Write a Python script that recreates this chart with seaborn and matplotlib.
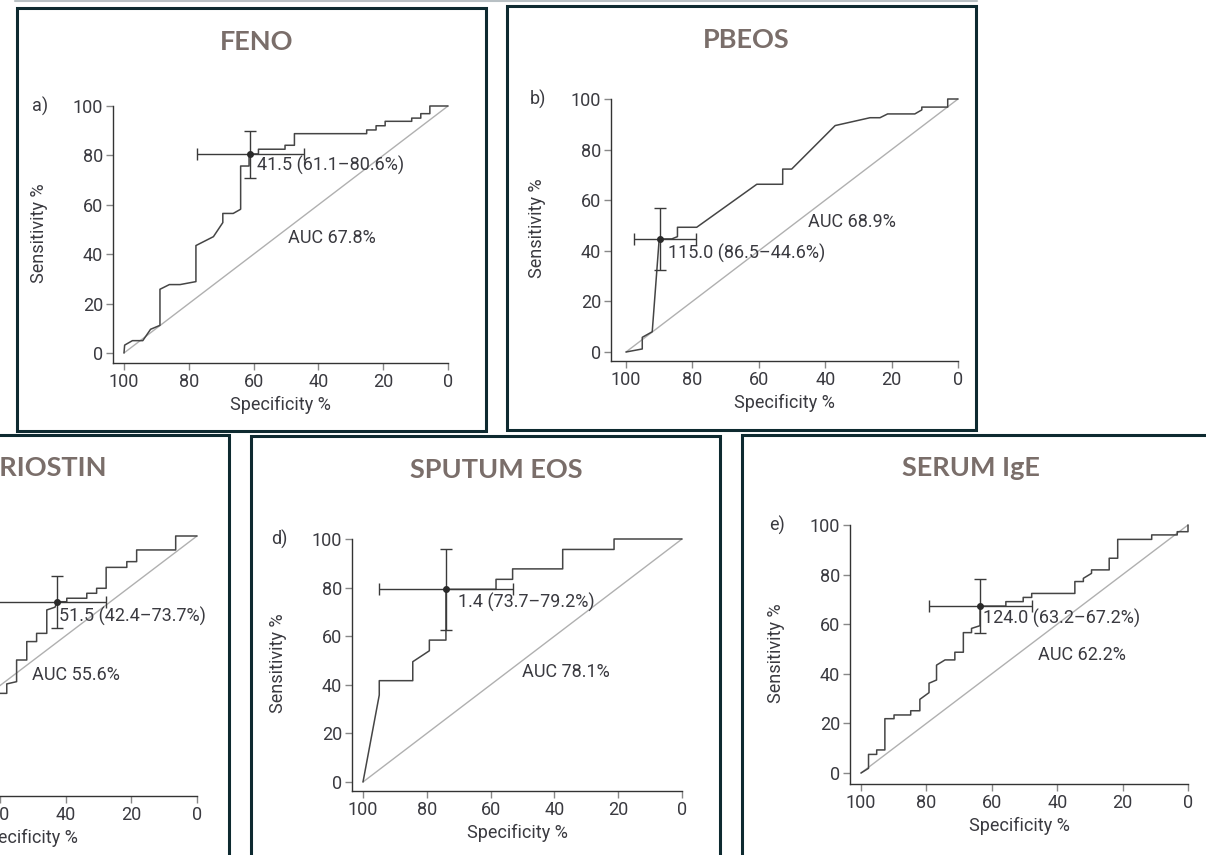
import matplotlib
matplotlib.use("Agg")
import matplotlib.pyplot as plt
from matplotlib.patches import Rectangle
from matplotlib.lines import Line2D
import seaborn as sns

# ---- data (specificity %, sensitivity %) ----
feno_spec = [100, 99.8, 97.4, 94.2, 91.8, 88.9, 88.9, 86.0, 82.7, 77.8, 77.8, 72.4, 69.5, 69.5,
             66.3, 64.0, 64.0, 61.4, 61.4, 58.5, 58.5, 50.3, 50.3, 47.4, 47.4, 25.1, 25.1, 22.2,
             22.2, 19.4, 19.4, 11.2, 11.2, 8.4, 8.4, 5.6, 5.6, 0]
feno_sens = [0, 3.2, 5.0, 5.0, 9.6, 11.2, 25.8, 27.7, 27.7, 28.9, 43.5, 47.1, 52.8, 56.5,
             56.5, 58.2, 75.7, 75.7, 80.6, 80.6, 82.5, 82.5, 84.1, 84.1, 88.8, 88.8, 90.3, 90.3,
             92.0, 92.0, 93.8, 93.8, 95.1, 95.1, 96.9, 96.9, 100, 100]

pbeos_spec = [100, 95.1, 95.1, 92.1, 90.0, 86.2, 84.5, 84.5, 78.7, 60.6, 52.8, 52.8, 50.1,
              37.0, 26.5, 23.5, 21.2, 13.0, 10.9, 10.9, 3.1, 3.1, 0]
pbeos_sens = [0, 1.2, 5.8, 8.0, 44.7, 44.7, 45.6, 49.3, 49.3, 66.3, 66.3, 72.3, 72.3,
              89.5, 92.6, 92.6, 94.1, 94.1, 95.7, 96.8, 96.8, 100, 100]

peri_spec = [100, 97, 97, 93, 93, 88, 88, 84, 84, 79, 79, 74, 74, 69, 69, 64, 64, 60.1,
             58.0, 58.0, 55.0, 55.0, 51.9, 51.9, 48.9, 48.9, 45.8, 45.8, 43.3, 42.6, 39.7,
             39.7, 33.6, 33.6, 30.6, 30.6, 27.7, 27.7, 21.4, 21.4, 18.4, 18.4, 6.5, 6.5, 0]
peri_sens = [0, 0, 3, 3, 8, 8, 12, 12, 17, 17, 22, 22, 27, 27, 31, 31, 35, 36.8,
             36.8, 40.6, 41.5, 50.2, 50.2, 57.6, 57.6, 60.9, 60.9, 70.3, 71.4, 73.6, 73.6,
             75.0, 75.0, 77.0, 77.0, 79.0, 79.0, 87.4, 87.4, 89.7, 89.7, 94.4, 94.4, 100, 100]

sput_spec = [100, 94.9, 94.9, 84.4, 84.4, 79.2, 79.2, 74.0, 74.0, 58.3, 58.3, 53.1, 53.1,
             37.4, 37.4, 21.3, 21.3, 0]
sput_sens = [0, 35.8, 41.7, 41.7, 49.5, 54.0, 58.4, 58.4, 79.3, 79.3, 83.4, 83.4, 87.7,
             87.7, 95.7, 95.7, 100, 100]

ige_spec = [100, 97.7, 97.7, 95.2, 95.2, 92.7, 92.7, 89.9, 89.9, 84.8, 84.8, 82.0, 82.0, 79.2,
            79.2, 76.9, 76.9, 74.3, 71.3, 71.3, 68.7, 68.7, 66.2, 66.2, 63.6, 63.6, 55.7, 55.7,
            50.4, 50.4, 47.8, 47.8, 34.6, 34.6, 32.0, 32.0, 29.5, 29.5, 24.1, 24.1, 21.5, 21.5,
            11.1, 11.1, 3.3, 3.3, 0, 0]
ige_sens = [0, 1.9, 7.5, 7.5, 9.3, 9.3, 21.9, 21.9, 23.4, 23.4, 25.1, 25.1, 29.7, 32.4,
            36.2, 37.5, 43.5, 45.6, 45.6, 48.7, 48.7, 56.6, 56.6, 58.3, 59.4, 67.3, 67.3, 69.1,
            69.1, 70.8, 70.8, 72.4, 72.4, 77.2, 77.2, 78.5, 80.5, 81.9, 81.9, 86.6, 86.6, 94.2,
            94.2, 96.0, 96.0, 97.3, 97.3, 100]

titles = ["FENO", "PBEOS", "PERIOSTIN", "SPUTUM EOS", "SERUM IgE"]
panel_tags = ["a)", "b)", "c)", "d)", "e)"]
cut_labels = ["41.5 (61.1–80.6%)", "115.0 (86.5–44.6%)", "51.5 (42.4–73.7%)",
              "1.4 (73.7–79.2%)", "124.0 (63.2–67.2%)"]
auc_labels = ["AUC 67.8%", "AUC 68.9%", "AUC 55.6%", "AUC 78.1%", "AUC 62.2%"]
# cut-off point (spec, sens) and its intervals
cut_point = [(61.0, 80.6), (89.8, 44.7), (42.6, 73.6), (74.0, 79.3), (63.6, 67.3)]
cut_spec_range = [(44.4, 77.6), (78.9, 97.6), (27.7, 62.0), (52.9, 94.9), (47.6, 79.2)]
cut_sens_range = [(70.9, 90.0), (32.4, 56.8), (62.9, 83.9), (62.6, 95.7), (56.6, 78.2)]
cut_text_pos = [(59.1, 76.1), (87.2, 39.0), (42.0, 67.6), (70.1, 73.8), (62.6, 62.4)]
auc_text_pos = [(49.3, 46.4), (45.1, 51.5), (50.2, 44.2), (50.0, 45.4), (45.8, 47.6)]

curves = [(feno_spec, feno_sens), (pbeos_spec, pbeos_sens), (peri_spec, peri_sens),
          (sput_spec, sput_sens), (ige_spec, ige_sens)]

# ---- layout in pixels ----
W, H = 1206, 855
# spine_left, spine_bottom, x(100), x(0), y(100), y(0)
axes_px = [(113, 363, 124, 448, 106, 353),
           (611, 361, 626, 958, 99, 352),
           (-142, 796, -131, 197, 536, 785),
           (352, 791, 363, 682, 539, 782),
           (850, 784, 861, 1188, 525, 773)]
boxes_px = [(17, 8, 486, 431), (507, 6, 976, 430), (-10, 435, 229, 880),
            (251, 436, 720, 880), (742, 435, 1220, 880)]
title_px = [(257, 42, "center"), (746, 40, "center"), (107, 468, "right"),
            (496, 470, "center"), (971, 468, "center")]

sns.set_theme(style="white")
plt.rcParams["font.family"] = ["Roboto", "DejaVu Sans"]

fig = plt.figure(figsize=(W / 100, H / 100), dpi=100)
fig.patch.set_facecolor("white")

text_col = "#3a3a40"
line_col = "#454545"
box_col = "#0e2a30"
fs = 13

# thin grey rule at the very top
fig.add_artist(Line2D([15 / W, 977 / W], [1 - 1 / H, 1 - 1 / H], color="#b8c0c4", lw=1.5))

for (x0b, y0b, x1b, y1b) in boxes_px:
    fig.add_artist(Rectangle((x0b / W, 1 - y1b / H), (x1b - x0b) / W, (y1b - y0b) / H,
                             fill=False, edgecolor=box_col, lw=2.2, transform=fig.transFigure))

for (tx, ty, ha), t in zip(title_px, titles):
    fig.text(tx / W, 1 - ty / H, t, ha=ha, va="center", fontsize=19.5, fontweight="bold",
             color="#7a6e6a", family=["Lato", "DejaVu Sans"])

pad = 3
for i, (sl, sb, x100, x0, y100, y0) in enumerate(axes_px):
    sx = (x0 - x100) / 100
    sy = (y0 - y100) / 100
    right = x0 + pad
    top = y100 - pad
    ax = fig.add_axes([sl / W, 1 - sb / H, (right - sl) / W, (sb - top) / H])
    ax.set_facecolor("none")
    xmin = 100 + (x100 - sl) / sx
    ymin = -(sb - y0) / sy
    ax.set_xlim(xmin, -pad / sx)
    ax.set_ylim(ymin, 100 + pad / sy)

    # chance line
    sns.lineplot(x=[100, 0], y=[0, 100], ax=ax, color="#b0b0b0", linewidth=1.0)
    spec, sens = curves[i]
    sns.lineplot(x=spec, y=sens, ax=ax, sort=False, estimator=None, color=line_col,
                 linewidth=1.1)

    px_, py_ = cut_point[i]
    slo, shi = cut_spec_range[i]
    ylo, yhi = cut_sens_range[i]
    ax.errorbar([px_], [py_], xerr=[[px_ - slo], [shi - px_]], yerr=[[py_ - ylo], [yhi - py_]],
                fmt="o", ms=4, color="#2a2a2a", ecolor="#3a3a3a", elinewidth=1.0,
                capsize=4, capthick=1.0)

    ctx, cty = cut_text_pos[i]
    ax.text(ctx, cty, cut_labels[i], ha="left", va="center", fontsize=fs, color=text_col)
    atx, aty = auc_text_pos[i]
    ax.text(atx, aty, auc_labels[i], ha="left", va="center", fontsize=fs, color=text_col)

    ax.set_xticks([100, 80, 60, 40, 20, 0])
    ax.set_yticks([0, 20, 40, 60, 80, 100])
    ax.tick_params(axis="both", direction="out", length=5, width=1, color="#888888",
                   labelsize=fs, labelcolor=text_col, pad=2, left=True, bottom=True)
    for side in ["top", "right"]:
        ax.spines[side].set_visible(False)
    for side in ["left", "bottom"]:
        ax.spines[side].set_color("#333333")
        ax.spines[side].set_linewidth(1.0)
    ax.spines["left"].set_bounds(ymin, 100)
    ax.spines["bottom"].set_bounds(xmin, 0)

    ax.set_xlabel("Specificity %", fontsize=fs, color=text_col)
    ax.set_ylabel("Sensitivity %", fontsize=fs, color=text_col)
    w_px = right - sl
    h_px = sb - top
    ax.xaxis.set_label_coords(((x0 + sl) / 2 - sl) / w_px, -33 / h_px)
    ax.yaxis.set_label_coords(-65 / w_px, 0.5)

    fig.text((sl - 81) / W, 1 - y100 / H, panel_tags[i], ha="left", va="center",
             fontsize=fs, color=text_col)

fig.savefig("out.png", dpi=100)
